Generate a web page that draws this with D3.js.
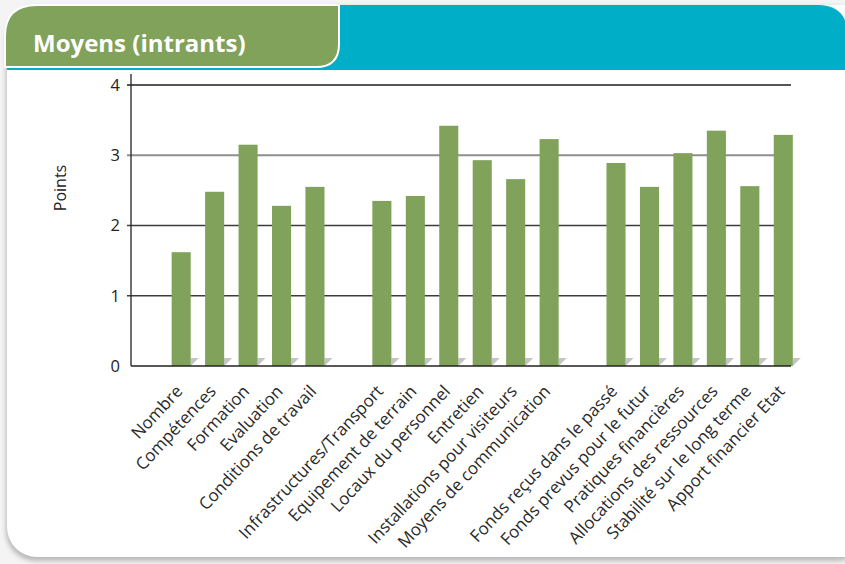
<!DOCTYPE html>
<html>
<head>
<meta charset="utf-8">
<script src="https://d3js.org/d3.v7.min.js"></script>
<style>
  body { margin: 0; background: #fff; }
  text { font-family: "Open Sans", "Noto Sans", sans-serif; fill: #222; }
</style>
</head>
<body>
<script>
// data
var title = "Moyens (intrants)";
var yLabel = "Points";
var yTicks = [0, 1, 2, 3, 4];
var groupSizes = [5, 6, 6];
var categories = ["Nombre", "Compétences", "Formation", "Evaluation", "Conditions de travail",
  "Infrastructures/Transport", "Equipement de terrain", "Locaux du personnel", "Entretien",
  "Installations pour visiteurs", "Moyens de communication",
  "Fonds reçus dans le passé", "Fonds prevus pour le futur", "Pratiques financières",
  "Allocations des ressources", "Stabilité sur le long terme", "Apport financier Etat"];
var values = [1.62, 2.48, 3.15, 2.28, 2.55,
  2.35, 2.42, 3.42, 2.93, 2.66, 3.23,
  2.89, 2.55, 3.03, 3.35, 2.56, 3.29];

var width = 845, height = 564;
var svg = d3.select("body").append("svg").attr("width", width).attr("height", height);

// card background
var defs = svg.append("defs");
var f = defs.append("filter").attr("id", "sh").attr("x", "-5%").attr("y", "-5%").attr("width", "110%").attr("height", "110%");
f.append("feGaussianBlur").attr("stdDeviation", 2.5);
svg.append("rect").attr("x", 0).attr("y", 0).attr("width", width).attr("height", height).attr("fill", "#f4f4f4");
svg.append("rect").attr("x", 6).attr("y", 7).attr("width", 860).attr("height", 554)
  .attr("rx", 30).attr("fill", "#b8b8b8").attr("filter", "url(#sh)");
svg.append("rect").attr("x", 7).attr("y", 5).attr("width", 870).attr("height", 552)
  .attr("rx", 30).attr("fill", "#fff");

// header band
svg.append("path").attr("fill", "#00aec7")
  .attr("d", "M7,70 V35 Q7,5 37,5 H818 Q845,5 848,32 V70 Z");
svg.append("path").attr("fill", "#80a25a").attr("stroke", "#fff").attr("stroke-width", 2)
  .attr("d", "M5,68 V36 Q5,5 37,5 H339 V44 Q339,67 316,67 H5");
svg.append("text").attr("x", 33).attr("y", 52).text(title)
  .style("fill", "#fff").style("font-size", "24px").style("font-weight", "bold")
  .style("font-family", "'Open Sans', sans-serif");

// slots: a blank before every group
var slots = [], k = 0;
groupSizes.forEach(function(n) {
  slots.push(null);
  for (var i = 0; i < n; i++) { slots.push(k); k++; }
});

var x = d3.scaleBand().domain(d3.range(slots.length)).range([131, 800])
  .paddingInner(0.43).paddingOuter(0.215);
var y = d3.scaleLinear().domain([0, 4]).range([366, 85]);
var xEnd = 791;

var gridColor = { 1: "#3c3c3c", 2: "#3c3c3c", 3: "#8e8e8e", 4: "#1e1e1e" };
svg.append("g").selectAll("line").data(yTicks.filter(function(d) { return d > 0; }))
  .enter().append("line")
  .attr("x1", 127).attr("x2", xEnd)
  .attr("y1", function(d) { return y(d); }).attr("y2", function(d) { return y(d); })
  .attr("stroke", function(d) { return gridColor[d]; })
  .attr("stroke-width", function(d) { return d == 3 ? 2 : 1.3; });

// y axis
svg.append("line").attr("x1", 131).attr("x2", 131).attr("y1", 74).attr("y2", y(0))
  .attr("stroke", "#222").attr("stroke-width", 1.3);
svg.append("g").selectAll("text").data(yTicks).enter().append("text")
  .attr("x", 120).attr("y", function(d) { return y(d); }).attr("dy", "0.36em")
  .attr("text-anchor", "end").style("font-size", "16.5px").text(function(d) { return d; });
svg.append("text").attr("transform", "translate(66,188) rotate(-90)")
  .attr("text-anchor", "middle").style("font-size", "16px").text(yLabel);

var bars = slots.map(function(s, i) { return { slot: i, idx: s }; })
  .filter(function(d) { return d.idx !== null; });

// little shadows at the foot of the bars
svg.append("g").selectAll("path").data(bars).enter().append("path")
  .attr("fill", "#c4c4c4")
  .attr("d", function(d) {
    var r = x(d.slot) + x.bandwidth();
    return "M" + r + "," + (y(0) - 8) + "h8 L" + r + "," + y(0) + "Z";
  });

svg.append("g").selectAll("rect").data(bars).enter().append("rect")
  .attr("x", function(d) { return x(d.slot); })
  .attr("width", x.bandwidth())
  .attr("y", function(d) { return y(values[d.idx]); })
  .attr("height", function(d) { return y(0) - y(values[d.idx]); })
  .attr("fill", "#80a25a");

// x axis line
svg.append("line").attr("x1", 131).attr("x2", xEnd).attr("y1", y(0)).attr("y2", y(0))
  .attr("stroke", "#222").attr("stroke-width", 1.5);

svg.append("g").selectAll("text").data(bars).enter().append("text")
  .attr("transform", function(d) {
    return "translate(" + (x(d.slot) + x.bandwidth() / 2 - 2) + "," + (y(0) + 22) + ") rotate(-47)";
  })
  .attr("text-anchor", "end").attr("dy", "0.35em")
  .style("font-size", "17px").style("fill", "#2a2a2a")
  .text(function(d) { return categories[d.idx]; });
</script>
</body>
</html>
